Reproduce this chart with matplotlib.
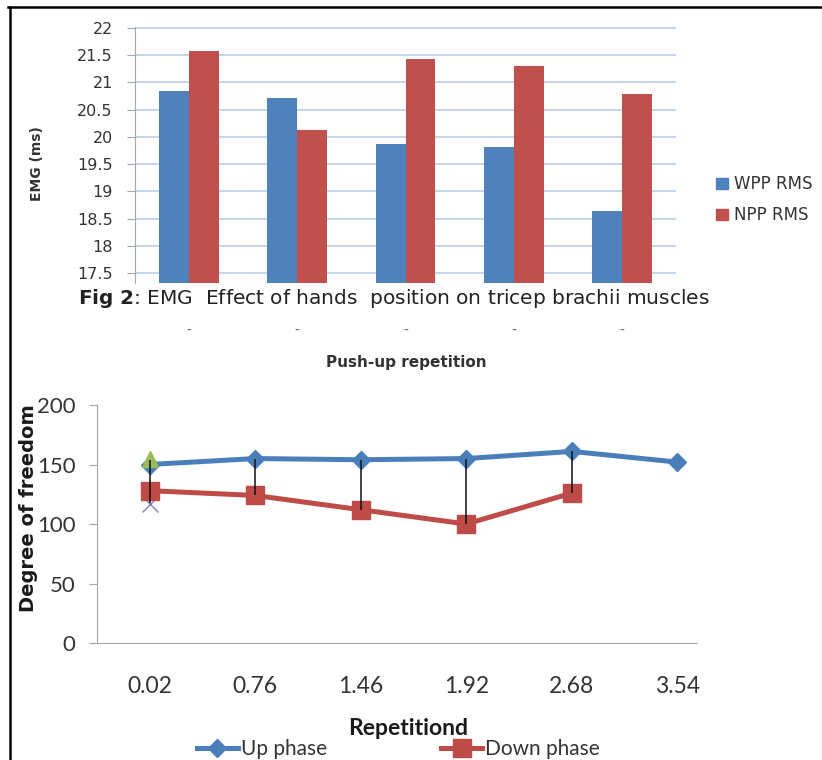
import matplotlib.pyplot as plt
import matplotlib.transforms as mtransforms
from matplotlib.lines import Line2D
from matplotlib.patches import Patch

# EMG RMS per push-up repetition for both hand positions
emg_groups = [1, 2, 3, 4, 5]
wpp_rms = [20.85, 20.72, 19.87, 19.82, 18.63]
npp_rms = [21.57, 20.13, 21.43, 21.30, 20.78]
emg_ticks = [17.5, 18, 18.5, 19, 19.5, 20, 20.5, 21, 21.5, 22]

# degree of freedom over the repetition
rep_labels = ['0.02', '0.76', '1.46', '1.92', '2.68', '3.54']
up_phase = [150, 155, 154, 155, 161, 152]
down_phase = [128, 124, 112, 100, 126]
hl_high = [154, 155, 154, 155, 161]
hl_low = [118, 124, 112, 100, 126]
first_high = [155]
first_low = [117]
dof_ticks = [0, 50, 100, 150, 200]

blue = '#4F81BD'
red = '#C0504D'
grey = '#A6A6A6'
narrow = ['Lato', 'DejaVu Sans']

W, H = 822, 760
fig = plt.figure(figsize=(W / 100, H / 100), dpi=100)
fig.patch.set_facecolor('white')

# ---------- bar chart (top) ----------
ax1 = fig.add_axes([135 / W, 1 - 283 / H, (676 - 135) / W, (283 - 26.9) / H])
w = 0.277
xs = range(len(emg_groups))
ax1.bar([i - w / 2 for i in xs], wpp_rms, w, color=blue, label='WPP RMS', zorder=2)
ax1.bar([i + w / 2 for i in xs], npp_rms, w, color=red, label='NPP RMS', zorder=2)
ax1.set_xlim(-0.5, len(emg_groups) - 0.5)
ax1.set_ylim(17.316, 22.02)
ax1.set_yticks(emg_ticks)
ax1.set_yticklabels([f'{t:g}' for t in emg_ticks])
ax1.grid(axis='y', color='#B9CDE5', lw=1.2)
ax1.set_axisbelow(True)
for s in ['top', 'right', 'bottom']:
    ax1.spines[s].set_visible(False)
ax1.spines['left'].set_color(grey)
ax1.tick_params(axis='y', length=6, color=grey, pad=10, labelsize=11.5, labelcolor='#333333')
ax1.tick_params(axis='x', bottom=False, labelbottom=False)

fig.text(37 / W, 1 - 164 / H, 'EMG (ms)', rotation=90, ha='center', va='center',
         fontsize=10, fontweight='bold', color='#333333')

fig.legend(handles=[Patch(color=blue), Patch(color=red)], labels=['WPP RMS', 'NPP RMS'],
           loc='upper left', bbox_to_anchor=(716 / W, 1 - 175 / H), frameon=False,
           handlelength=0.7, handleheight=0.65, handletextpad=0.35, labelspacing=0.8,
           fontsize=12, borderpad=0, borderaxespad=0, labelcolor='#333333')

# caption and the cut-off x labels under the bars
fig.text(78 / W, 1 - 298 / H,
         r'$\mathbf{Fig\ 2}$: EMG  Effect of hands  position on tricep brachii muscles',
         fontsize=14.5, ha='left', va='center', color='#222222')
trans = mtransforms.blended_transform_factory(ax1.transData, fig.transFigure)
for i in xs:
    fig.text(i, 1 - 331 / H, '-', transform=trans, ha='center', va='center',
             fontsize=10, color='#666666')
fig.text(406 / W, 1 - 363 / H, 'Push-up repetition', ha='center', va='center',
         fontsize=11, fontweight='bold', color='#333333')

# ---------- line chart (bottom) ----------
ax2 = fig.add_axes([96.5 / W, 1 - 643 / H, (697 - 96.5) / W, (643 - 405) / H])
xr = list(range(len(rep_labels)))
ax2.plot([0], first_low, 'x', color='#8C7DC5', ms=12, mew=1, zorder=2)
l_up, = ax2.plot(xr, up_phase, color='#4A7EBB', lw=3.6, marker='D', ms=9,
                 label='Up phase', zorder=3)
l_down, = ax2.plot(xr[:len(down_phase)], down_phase, color='#BE4B48', lw=3.6,
                   marker='s', ms=12.5, label='Down phase', zorder=3)
ax2.plot([0], first_high, '^', color='#9BBB59', ms=11, zorder=4)
ax2.vlines(xr[:len(hl_high)], hl_low, hl_high, color='#111111', lw=1.1, zorder=5)

ax2.set_xlim(-0.502, 5.185)
ax2.set_ylim(0, 200)
ax2.set_yticks(dof_ticks)
ax2.set_yticklabels([str(t) for t in dof_ticks], fontfamily=narrow, fontsize=16)
ax2.set_xticks(xr)
ax2.set_xticklabels(rep_labels, fontfamily=narrow, fontsize=16.5)
for s in ['top', 'right']:
    ax2.spines[s].set_visible(False)
ax2.spines['left'].set_color(grey)
ax2.spines['bottom'].set_color(grey)
ax2.tick_params(axis='y', length=6, color=grey, pad=9, labelcolor='#333333')
ax2.tick_params(axis='x', length=0, pad=24, labelcolor='#333333')

fig.text(28 / W, 1 - 508 / H, 'Degree of freedom', rotation=90, ha='center', va='center',
         fontsize=14, fontweight='bold', color='#1a1a1a')
fig.text(408 / W, 1 - 735 / H, 'Repetitiond', ha='center', va='baseline',
         fontsize=16.5, fontweight='bold', family=narrow, color='#1a1a1a')

ax2.legend(handles=[l_up, l_down], ncol=2, loc='center left',
           bbox_to_anchor=(197 / W, 1 - 749 / H), bbox_transform=fig.transFigure,
           frameon=False, borderpad=0, borderaxespad=0, handlelength=1.95,
           handletextpad=0.15, columnspacing=5.5,
           prop={'family': narrow, 'size': 15}, labelcolor='#333333')

# frame lines along the top and left edge
fig.add_artist(Line2D([8 / W, 1], [1 - 7 / H, 1 - 7 / H], transform=fig.transFigure,
                      color='black', lw=1.8))
fig.add_artist(Line2D([9.5 / W, 9.5 / W], [0, 1 - 7 / H], transform=fig.transFigure,
                      color='black', lw=1.8))

fig.savefig('out.png', dpi=100)
